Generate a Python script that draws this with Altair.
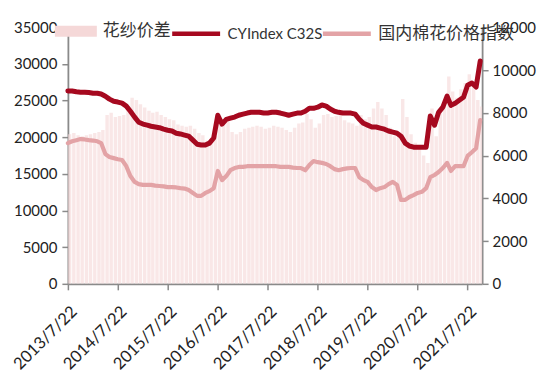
import altair as alt
import pandas as pd

FONT = "Lato, 'Noto Sans CJK SC', sans-serif"

start_date = "2013-07-22"
series_names = ["花纱价差", "CYIndex C32S", "国内棉花价格指数"]
x_labels = ["2013/7/22", "2014/7/22", "2015/7/22", "2016/7/22", "2017/7/22",
            "2018/7/22", "2019/7/22", "2020/7/22", "2021/7/22"]
left_ticks = [0, 5000, 10000, 15000, 20000, 25000, 30000, 35000]
right_ticks = [0, 2000, 4000, 6000, 8000, 10000, 12000]

cy = [26300, 26300, 26200, 26150, 26150, 26100, 26000, 26000, 25900, 25600,
      25200, 24900, 24800, 24650, 24250, 23550, 22750, 22050, 21800, 21650,
      21500, 21400, 21300, 21100, 20950, 20850, 20550, 20450, 20300, 20150,
      19600, 19050, 18950, 18950, 19200, 19900, 23000, 21800, 22450, 22600,
      22750, 23000, 23150, 23300, 23400, 23400, 23400, 23300, 23300, 23400,
      23400, 23300, 23150, 23000, 23150, 23300, 23300, 23550, 23950, 23950,
      24100, 24400, 24250, 23850, 23550, 23400, 23300, 23300, 23300, 23150,
      22450, 21900, 21650, 21400, 21400, 21250, 21100, 20850, 20700, 20550,
      20150, 19200, 18800, 18650, 18650, 18650, 18650, 22900, 21650, 23400,
      24100, 25600, 24350, 24650, 25050, 25450, 27100, 27400, 26850, 30400]

cotton = [19200, 19450, 19600, 19750, 19700, 19600, 19550, 19450, 19200, 17700,
          17300, 17150, 17000, 16900, 16050, 14700, 13900, 13600, 13500, 13500,
          13500, 13400, 13350, 13300, 13200, 13200, 13150, 13050, 13000, 12800,
          12400, 12000, 12000, 12400, 12650, 13050, 15400, 14150, 14700, 15500,
          15800, 15950, 15950, 16050, 16050, 16050, 16050, 16050, 16050, 16050,
          16050, 15950, 15950, 15950, 15850, 15800, 15800, 15500, 16200, 16750,
          16600, 16500, 16350, 16050, 15650, 15500, 15650, 15750, 15800, 15800,
          14550, 14150, 13900, 13200, 12800, 13050, 13200, 13600, 13900, 13500,
          11450, 11450, 11850, 12100, 12400, 12550, 13050, 14550, 14850, 15250,
          15800, 16500, 15400, 16050, 16050, 16050, 17450, 17950, 18500, 22350]

spread = [7000, 7050, 6950, 6900, 6950, 7000, 7050, 7100, 7200, 7900,
          8000, 7800, 7850, 7900, 8300, 8700, 8600, 8400, 8250, 8100,
          8000, 8050, 7900, 7800, 7700, 7650, 7450, 7400, 7350, 7400,
          7250, 7050, 6950, 6700, 6650, 6900, 7500, 7450, 7600, 7100,
          7000, 7100, 7250, 7300, 7350, 7400, 7350, 7250, 7300, 7400,
          7350, 7300, 7200, 7100, 7300, 7500, 7550, 7950, 7700, 7300,
          7500, 7900, 7950, 7800, 7850, 7900, 7650, 7550, 7500, 7400,
          7900, 7700, 7800, 8200, 8500, 8200, 7900, 7300, 6900, 7100,
          8650, 7800, 7000, 6600, 6300, 6000, 5650, 8200, 6900, 8100,
          8400, 9700, 9000, 8700, 9100, 9400, 9800, 9500, 8600, 8300]

dates = pd.date_range(start_date, periods=len(cy), freq=pd.DateOffset(months=1))

bar_df = pd.DataFrame({
    "date": dates,
    "end": dates + pd.Timedelta(days=25),
    "spread": spread,
    "k": series_names[0],
})
cy_df = pd.DataFrame({"date": dates, "value": cy, "series": series_names[1]})
cotton_df = pd.DataFrame({"date": dates, "value": cotton, "series": series_names[2]})

AX = "#8a8a8a"
x_values = [alt.DateTime(year=int(s.split("/")[0]), month=int(s.split("/")[1]),
                         date=int(s.split("/")[2])) for s in x_labels]
x_scale = alt.Scale(domain=[alt.DateTime(year=2013, month=7, date=22),
                            alt.DateTime(year=2021, month=11, date=5)])
x_axis = alt.Axis(values=x_values, format="%Y/%-m/%-d", labelAngle=-45,
                  labelAlign="right", labelBaseline="middle", labelFont=FONT,
                  labelFontSize=16.5, labelColor="#222", domainColor=AX,
                  domainWidth=1.8, tickColor=AX, tickWidth=1.5, tickSize=6,
                  labelPadding=19, labelOffset=6, grid=False, title=None,
                  labelOverlap=False, labelFlush=False)

left_axis = alt.Axis(orient="left", values=left_ticks, format="d",
                     labelFont=FONT, labelFontSize=15, labelColor="#222",
                     domainColor=AX, domainWidth=1.8, tickColor=AX,
                     tickWidth=1.5, tickSize=6, labelPadding=5,
                     grid=False, title=None)
right_axis = alt.Axis(orient="right", values=right_ticks, format="d",
                      labelFont=FONT, labelFontSize=15, labelColor="#222",
                      domainColor=AX, domainWidth=1.8, tickColor=AX,
                      tickWidth=1.5, tickSize=6, labelPadding=4,
                      grid=False, title=None)


def line_legend(x, size):
    return alt.Legend(orient="none", legendX=x, legendY=-20, title=None,
                      symbolType="stroke", symbolSize=2304, symbolStrokeWidth=4.5,
                      labelFont=FONT, labelFontSize=size, labelColor="#333",
                      labelOffset=5, padding=0)


bars = alt.Chart(bar_df).mark_bar(clip=True, opacity=0.62).encode(
    x=alt.X("date:T", scale=x_scale, axis=x_axis),
    x2="end:T",
    y=alt.Y("spread:Q", scale=alt.Scale(domain=[0, 12000]), axis=right_axis),
    y2=alt.datum(0),
    fill=alt.Fill("k:N", scale=alt.Scale(domain=[series_names[0]], range=["#F5D8D8"]),
                  legend=alt.Legend(orient="none", legendX=-13, legendY=-17,
                                    title=None, symbolType="M-1,-0.26H1V0.26H-1Z",
                                    symbolSize=1764, symbolOpacity=1,
                                    symbolStrokeWidth=0, labelFont=FONT,
                                    labelFontSize=17, labelColor="#333",
                                    labelOffset=6, padding=0)),
)

cy_line = alt.Chart(cy_df).mark_line(strokeJoin="round", strokeCap="round",
                                     strokeWidth=5).encode(
    x=alt.X("date:T", scale=x_scale, axis=x_axis),
    y=alt.Y("value:Q", scale=alt.Scale(domain=[0, 35000]), axis=left_axis),
    stroke=alt.Stroke("series:N",
                      scale=alt.Scale(domain=[series_names[1]], range=["#A6091F"]),
                      legend=line_legend(102, 15)),
)

cotton_line = alt.Chart(cotton_df).mark_line(strokeJoin="round", strokeCap="round",
                                             strokeWidth=4.2).encode(
    x=alt.X("date:T", scale=x_scale, axis=x_axis),
    y=alt.Y("value:Q", scale=alt.Scale(domain=[0, 35000]), axis=left_axis),
    color=alt.Color("series:N",
                    scale=alt.Scale(domain=[series_names[2]], range=["#E3A3A6"]),
                    legend=line_legend(253, 17)),
)

chart = alt.layer(bars, alt.layer(cotton_line, cy_line)).resolve_scale(
    y="independent"
).properties(
    width=415, height=257,
    autosize=alt.AutoSizeParams(type="none"),
    padding={"left": 60, "top": 19, "right": 60, "bottom": 90},
    background="white",
).configure_view(stroke=None)

chart.save("out.html", embed_options={"renderer": "svg", "actions": False})
